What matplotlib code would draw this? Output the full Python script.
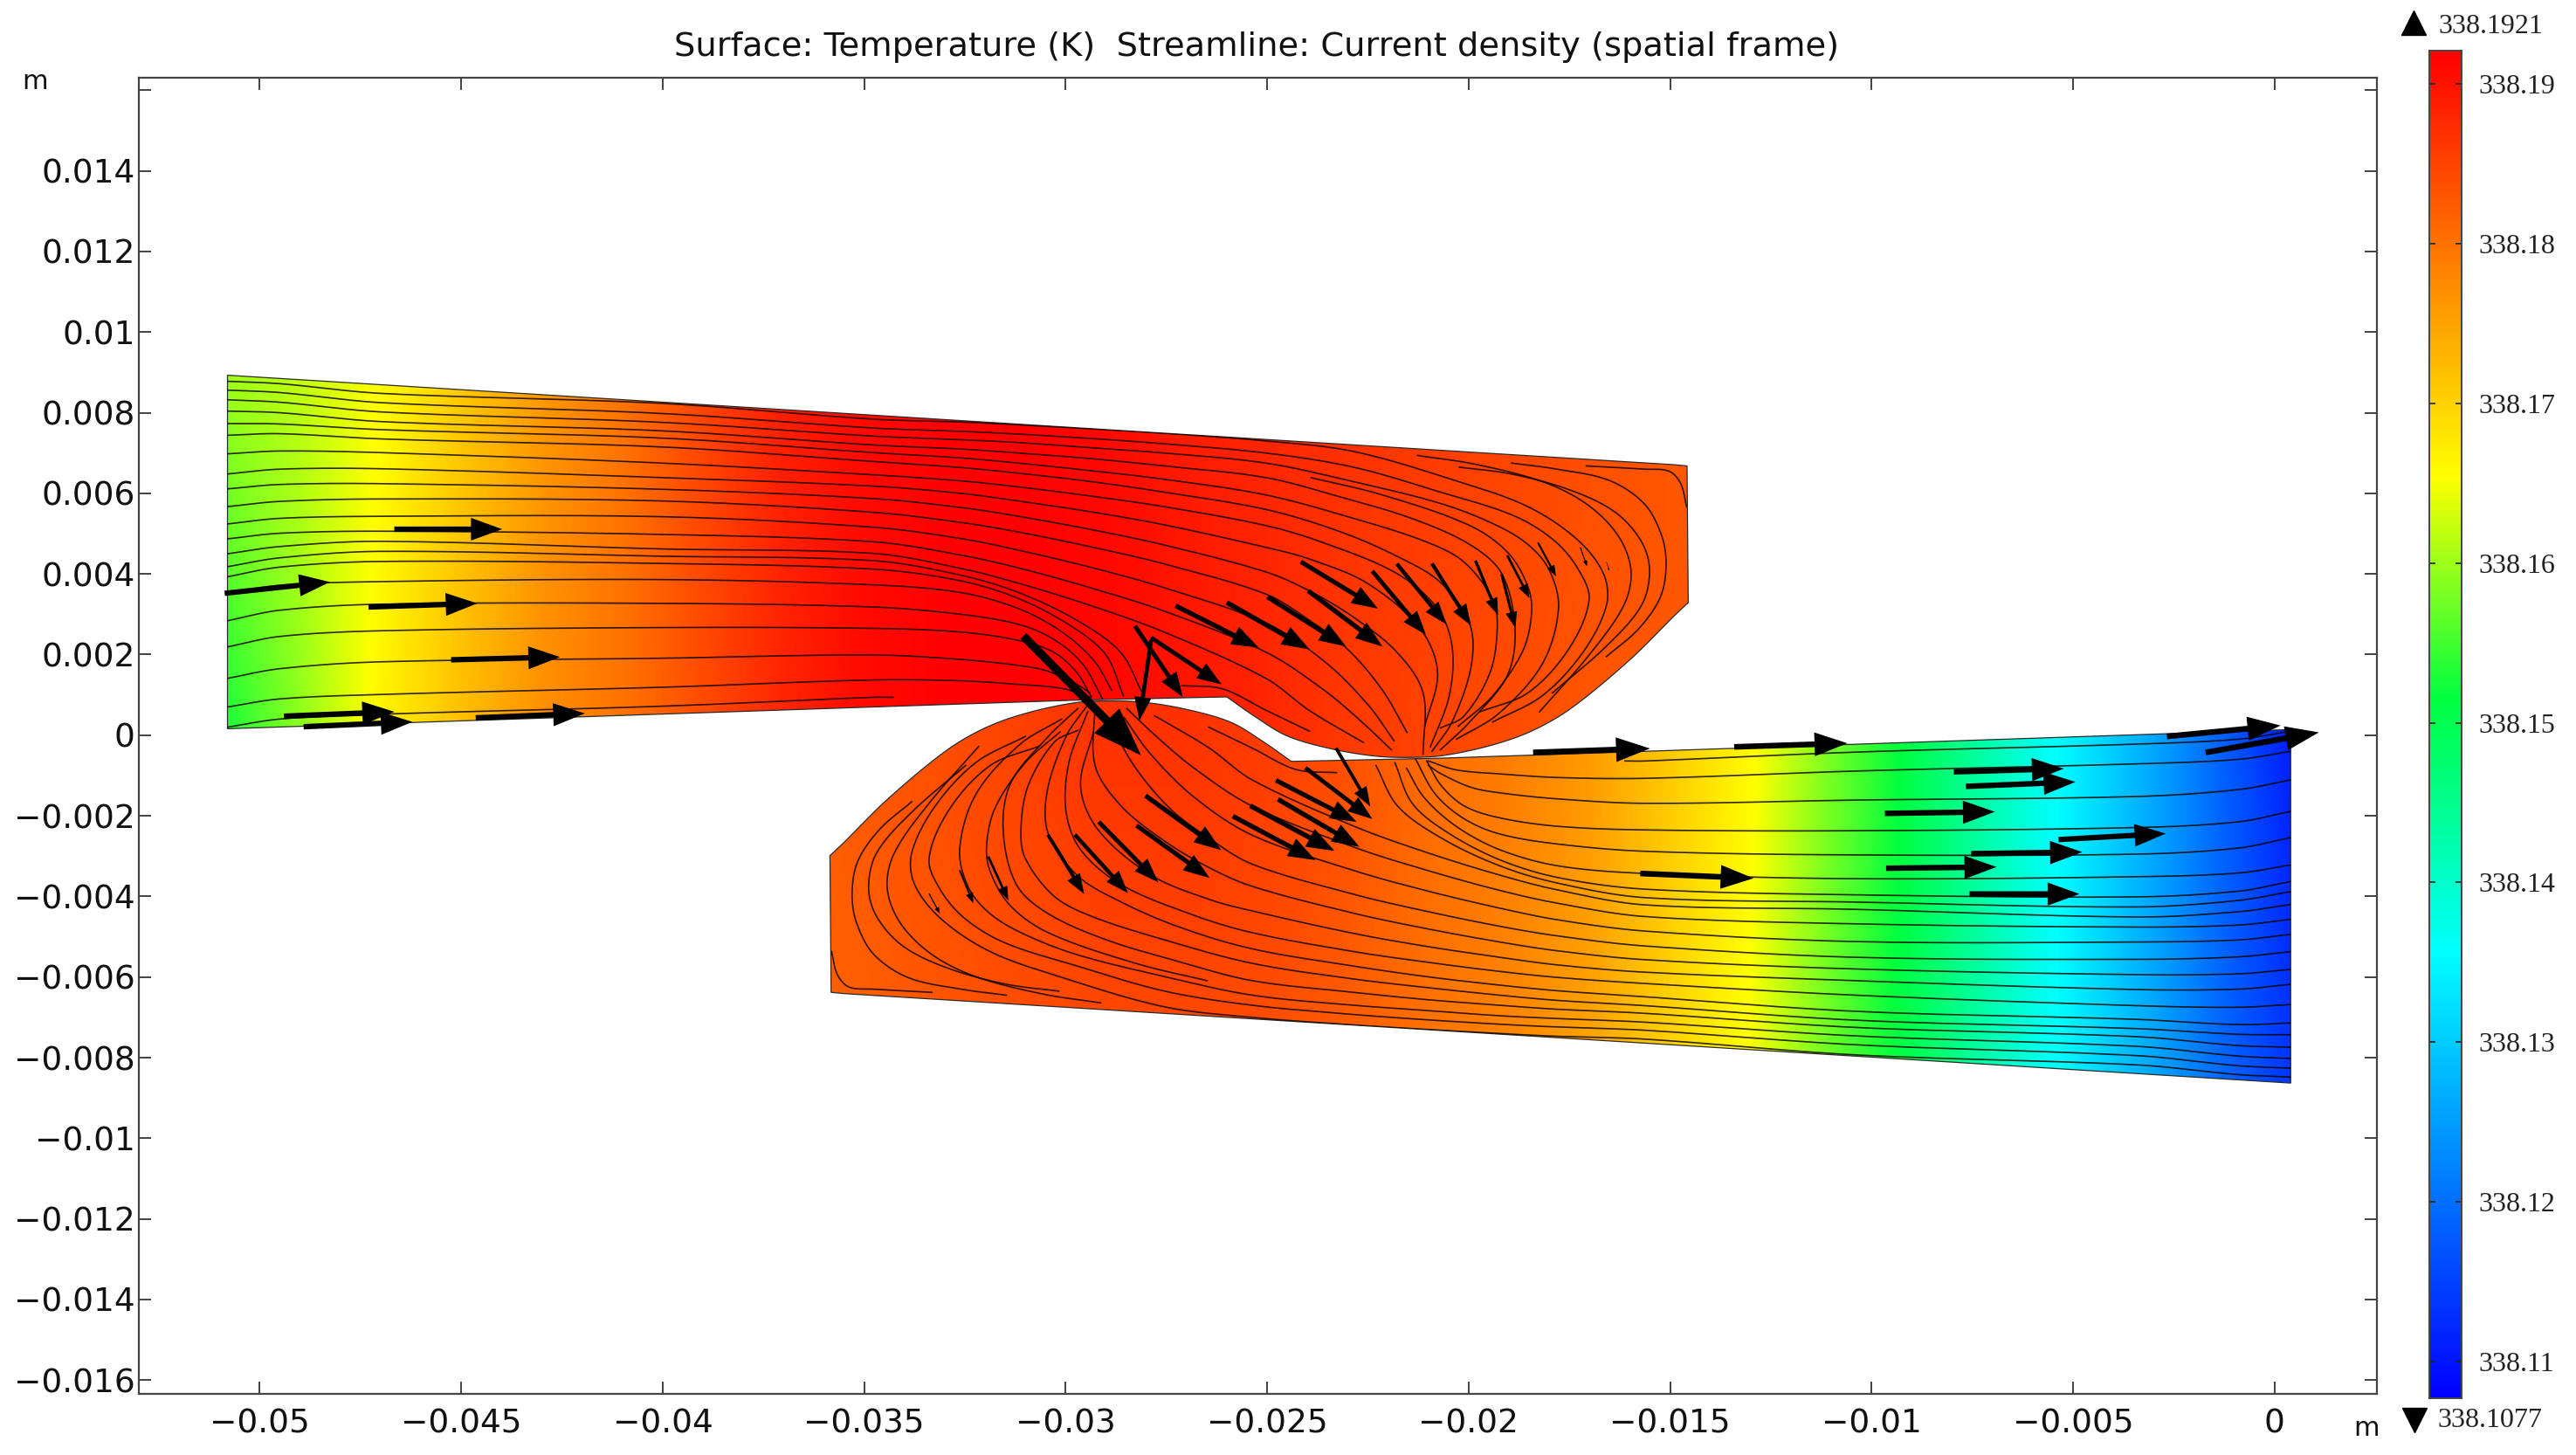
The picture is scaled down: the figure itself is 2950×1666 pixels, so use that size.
import numpy as np
import matplotlib
matplotlib.use("Agg")
import matplotlib.pyplot as plt
from matplotlib.colors import LinearSegmentedColormap
from matplotlib.patches import Polygon
from matplotlib.lines import Line2D

W, H = 2950, 1666
MM = 0.001  # values below are read in millimetres, the axes are in metres

TITLE = "Surface: Temperature (K)  Streamline: Current density (spatial frame)"
X_TICKS = [-0.05, -0.045, -0.04, -0.035, -0.03, -0.025, -0.02, -0.015, -0.01, -0.005, 0]
X_LABELS = ["−0.05", "−0.045", "−0.04", "−0.035", "−0.03", "−0.025", "−0.02", "−0.015", "−0.01", "−0.005", "0"]
Y_TICKS = [-0.016, -0.014, -0.012, -0.01, -0.008, -0.006, -0.004, -0.002, 0, 0.002, 0.004, 0.006,
           0.008, 0.01, 0.012, 0.014, 0.016]
Y_LABELS = ["−0.016", "−0.014", "−0.012", "−0.01", "−0.008", "−0.006", "−0.004", "−0.002", "0",
            "0.002", "0.004", "0.006", "0.008", "0.01", "0.012", "0.014", ""]

T_MIN, T_MAX = 338.1077, 338.1921
CBAR_TICKS = [338.11, 338.12, 338.13, 338.14, 338.15, 338.16, 338.17, 338.18, 338.19]

# Outline of the upper conductor (mm): straight top and right side, curved contact side, straight underside
OUTLINE_CORNERS = [(-50.8, 8.93), (-14.9, 6.71), (-14.58, 6.68), (-14.55, 3.29)]
OUTLINE_CURVE = [(-14.9, 2.96), (-16.0, 1.87), (-17.44, 0.68), (-18.4, 0.12), (-19.4, -0.24),
                 (-20.6, -0.5), (-21.4, -0.55), (-22.3, -0.52), (-23.4, -0.34), (-24.5, -0.02), (-25.3, 0.46),
                 (-26.0, 0.95)]
OUTLINE_UNDER = [(-29.72, 0.87), (-34.78, 0.7), (-50.8, 0.16)]
# The lower conductor is the upper one turned by half a circle about this point (mm)
TURN_CENTRE = (-25.2, 0.15)

# Temperature readings, offsets from 338 K
UPPER_T_X = [-51, -49, -47, -45, -43, -41, -39, -37, -35, -33, -31, -29, -27, -25, -23, -21, -19, -17, -15, -13]
UPPER_T_LOW = [.152, .159, .1665, .172, .177, .180, .184, .188, .191, .192, .192, .1915, .190, .188, .186, .185,
               .184, .183, .183, .183]
UPPER_T_HIGH = [.160, .162, .1655, .171, .176, .180, .185, .189, .191, .192, .192, .191, .189, .188, .187, .186,
                .185, .184, .183, .183]
UPPER_T_Y = [0.0, 9.0]
LOWER_T_X = [-37, -35, -33, -31, -29, -27, -25, -23, -21, -19, -17, -15, -13, -11, -9, -7, -5, -3, -1, 1]
LOWER_T_LOW = [.1815, .182, .183, .1835, .184, .184, .1835, .182, .180, .178, .175, .170, .165, .157, .150, .142,
               .134, .126, .118, .112]
LOWER_T_HIGH = [.182, .183, .184, .1855, .187, .187, .186, .184, .181, .179, .176, .171, .166, .158, .1505, .142,
                .134, .126, .117, .108]
LOWER_T_Y = [-9.0, 1.0]

# Streamlines of the upper conductor: y (mm) at common x stations, then each line's own path (mm)
STATION_X = [-50.8, -49.5, -47.0, -40.0, -34.78]
ST_Y = [
    [8.78, 8.72, 8.48, 8.23, 7.84], [8.56, 8.50, 8.25, 7.98, 7.62], [8.32, 8.26, 8.02, 7.76, 7.42],
    [8.04, 8.00, 7.78, 7.55, 7.20], [7.73, 7.72, 7.58, 7.37, 7.01], [7.44, 7.48, 7.35, 7.15, 6.79],
    [6.98, 7.05, 7.01, 6.75, 6.46], [6.48, 6.60, 6.61, 6.39, 6.18], [6.11, 6.22, 6.24, 6.10, 5.87],
    [5.67, 5.80, 5.86, 5.81, 5.53], [5.24, 5.38, 5.43, 5.42, 5.16], [4.87, 5.01, 5.06, 4.98, 4.80],
    [4.50, 4.68, 4.81, 4.62, 4.51], [4.18, 4.40, 4.56, 4.44, 4.33], [3.93, 4.17, 4.31, 4.26, 4.12],
    [3.52, 3.72, 3.81, 3.86, 3.73], [2.84, 3.10, 3.25, 3.27, 3.18], [2.19, 2.45, 2.59, 2.67, 2.65],
    [1.41, 1.65, 1.82, 1.91, 1.99], [0.70, 0.90, 1.01, 1.19, 1.37], [0.20, 0.40, 0.52, 0.72, 0.94],
]
ST_TAIL = [
    [(-32.61, 7.77), (-31.17, 7.70), (-29.36, 7.60), (-27.56, 7.49), (-25.03, 7.30), (-22.86, 7.04), (-20.34, 6.32),
     (-18.53, 5.67), (-17.30, 4.85), (-16.65, 4.00), (-16.58, 3.22), (-17.16, 2.06), (-18.17, 0.98), (-19.40, 0.33)],
    [(-32.61, 7.54), (-31.17, 7.47), (-29.36, 7.36), (-27.56, 7.23), (-25.03, 7.00), (-22.86, 6.65), (-20.70, 6.03),
     (-18.89, 5.45), (-17.90, 4.85), (-17.30, 4.15), (-17.01, 3.36), (-17.52, 2.13), (-18.53, 1.05), (-19.72, 0.58)],
    [(-32.61, 7.33), (-31.17, 7.26), (-29.36, 7.13), (-27.56, 7.00), (-25.03, 6.75), (-22.86, 6.29), (-20.70, 5.75),
     (-19.40, 5.25), (-18.55, 4.75), (-18.00, 4.10), (-17.77, 3.14), (-18.17, 1.77), (-19.25, 0.54), (-20.30, -0.10)],
    [(-32.61, 7.10), (-31.17, 7.00), (-29.36, 6.86), (-27.56, 6.68), (-25.03, 6.39), (-23.22, 5.92), (-21.42, 5.38),
     (-19.97, 4.73), (-19.18, 4.01), (-18.85, 2.67), (-19.04, 1.48), (-19.97, 0.33), (-20.70, -0.36)],
    [(-32.61, 6.88), (-31.17, 6.75), (-29.36, 6.56), (-27.56, 6.35), (-25.03, 5.96), (-22.86, 5.38), (-21.06, 4.80),
     (-20.12, 4.30), (-19.40, 3.36), (-19.29, 2.64), (-19.47, 1.55), (-20.12, 0.47), (-20.70, 0.18)],
    [(-32.61, 6.64), (-31.17, 6.50), (-29.36, 6.29), (-27.56, 6.03), (-25.03, 5.60), (-23.22, 5.06), (-21.78, 4.44),
     (-20.70, 3.79), (-19.97, 2.75), (-19.94, 1.70), (-20.41, 0.33), (-20.91, -0.40)],
    [(-32.61, 6.31), (-31.17, 6.16), (-29.36, 5.93), (-27.56, 5.67), (-25.03, 5.20), (-23.59, 4.77), (-21.78, 4.01),
     (-20.77, 3.14), (-20.41, 2.20), (-20.48, 0.98), (-20.95, -0.29)],
    [(-32.61, 6.00), (-31.17, 5.81), (-29.36, 5.54), (-27.56, 5.22), (-25.03, 4.66), (-23.95, 4.37), (-22.50, 3.76),
     (-21.20, 2.64), (-20.77, 1.55), (-21.09, 0.22)],
    [(-32.61, 5.65), (-31.17, 5.43), (-29.36, 5.10), (-27.56, 4.72), (-25.03, 4.05), (-23.95, 3.58), (-22.86, 2.93),
     (-21.78, 2.06), (-21.13, 1.05), (-21.13, -0.47)],
    [(-32.61, 5.28), (-31.17, 5.04), (-29.36, 4.67), (-27.56, 4.25), (-25.03, 3.50), (-23.95, 2.85), (-23.00, 2.13),
     (-22.14, 1.12), (-21.53, 0.07)],
    [(-32.61, 4.88), (-31.17, 4.59), (-29.36, 4.16), (-27.56, 3.66), (-25.03, 2.78), (-23.59, 1.84), (-22.50, 0.76),
     (-21.85, -0.14)],
    [(-32.61, 4.47), (-31.17, 4.15), (-29.36, 3.65), (-27.56, 3.08), (-25.03, 2.06), (-23.59, 1.12), (-22.65, 0.33),
     (-21.92, -0.36)],
    [(-32.61, 4.14), (-31.17, 3.77), (-29.36, 3.21), (-27.56, 2.56), (-25.03, 1.41), (-23.95, 0.61), (-22.61, -0.18)],
    [(-32.61, 3.97), (-31.17, 3.54), (-29.72, 2.85), (-28.64, 2.06), (-28.10, 1.05)],
    [(-32.61, 3.83), (-31.17, 3.39), (-29.87, 2.71), (-29.00, 1.99), (-28.57, 0.98)],
    [(-32.61, 3.54), (-31.17, 3.14), (-30.09, 2.56), (-29.29, 1.84), (-28.86, 1.12)],
    [(-32.61, 3.00), (-31.17, 2.75), (-30.30, 2.38), (-29.58, 1.77), (-29.07, 0.87)],
    [(-32.61, 2.56), (-31.17, 2.35), (-30.30, 2.06), (-29.72, 1.55), (-29.36, 0.94)],
    [(-32.61, 1.88), (-31.17, 1.73), (-30.45, 1.59), (-29.72, 1.26), (-29.40, 1.05)],
    [(-32.61, 1.35), (-31.17, 1.26), (-30.09, 1.16), (-29.40, 0.94)],
    [(-34.28, 0.94)],
]
# Short streamlines that start inside the conductor (mm)
ST_SHORT = [
    [(-23.91, 6.39), (-22.14, 5.96), (-19.97, 5.20), (-19.00, 4.50), (-18.50, 3.60), (-18.45, 2.90), (-18.67, 2.06),
     (-19.40, 0.98), (-20.26, 0.22)],
    [(-27.12, 1.23), (-26.11, 1.15), (-25.03, 0.62), (-23.95, 0.10)],
    [(-18.93, 6.75), (-17.81, 6.60), (-16.51, 6.32), (-15.64, 5.74), (-15.21, 4.95), (-15.10, 4.23), (-15.24, 3.43),
     (-15.78, 2.64), (-16.58, 1.95)],
    [(-20.23, 6.65), (-18.89, 6.47), (-17.45, 6.07), (-16.36, 5.53), (-15.71, 4.80), (-15.51, 4.08), (-15.71, 3.22),
     (-16.58, 2.21), (-17.92, 1.05)],
    [(-21.27, 6.94), (-19.83, 6.72), (-18.17, 6.29), (-17.08, 5.74), (-16.29, 4.95), (-15.97, 4.08), (-16.15, 3.22),
     (-17.01, 1.99), (-18.24, 0.58)],
    [(-17.08, 6.68), (-15.64, 6.60), (-15.03, 6.55), (-14.74, 6.25), (-14.59, 5.67)],
]

# Arrows: tail x, tail y, tip x, tip y (mm)
ARROWS = [
    (-50.87, 3.52, -48.26, 3.80), (-46.66, 5.11, -43.98, 5.11), (-47.30, 3.18, -44.60, 3.27),
    (-45.25, 1.87, -42.55, 1.94), (-49.40, 0.47, -46.66, 0.58), (-48.91, 0.21, -46.21, 0.33),
    (-44.64, 0.43, -41.93, 0.54),
    (-24.16, 4.30, -22.25, 3.14), (-23.98, 3.58, -22.14, 2.20), (-24.99, 3.43, -23.04, 2.20),
    (-26.00, 3.29, -23.95, 2.13), (-27.27, 3.21, -25.21, 2.17), (-22.39, 4.07, -21.06, 2.49),
    (-21.78, 4.25, -20.55, 2.75), (-20.91, 4.26, -19.94, 2.72), (-19.83, 4.33, -19.27, 2.98),
    (-19.18, 3.99, -18.84, 2.66), (-19.04, 4.46, -18.49, 3.40), (-18.28, 4.78, -17.83, 3.94),
    (-17.23, 4.66, -17.06, 4.19), (-16.58, 4.30, -16.51, 4.08),
    (-31.05, 2.46, -28.13, -0.50), (-28.28, 2.71, -27.09, 0.94), (-27.88, 2.42, -26.13, 1.26),
    (-27.88, 2.35, -28.17, 0.36),
    (-28.02, -1.50, -26.14, -2.85), (-28.24, -2.24, -26.43, -3.54), (-29.18, -2.15, -27.70, -3.65),
    (-29.77, -2.47, -28.45, -3.92), (-30.44, -2.47, -29.54, -3.94), (-31.92, -3.01, -31.42, -4.10),
    (-32.63, -3.35, -32.29, -4.17), (-33.39, -3.93, -33.12, -4.43),
    (-25.85, -2.01, -23.80, -3.10), (-25.42, -1.75, -23.33, -2.87), (-24.73, -1.59, -22.71, -2.77),
    (-24.78, -1.12, -22.78, -2.15), (-24.05, -0.81, -22.39, -2.08), (-23.29, -0.32, -22.44, -1.77),
    (-18.40, -0.43, -15.50, -0.33), (-13.41, -0.29, -10.60, -0.20), (-2.67, -0.03, 0.15, 0.24),
    (-1.71, -0.43, 1.10, 0.07), (-7.96, -0.91, -5.23, -0.83), (-7.66, -1.27, -4.94, -1.16),
    (-9.67, -1.94, -6.94, -1.90), (-5.36, -2.59, -2.70, -2.44), (-7.53, -2.94, -4.77, -2.90),
    (-9.64, -3.30, -6.90, -3.27), (-7.57, -3.94, -4.84, -3.94), (-15.74, -3.43, -12.93, -3.55),
]

CMAP_STOPS = [(0.0, (0, 0, 1)), (0.33, (0, 1, 1)), (0.518, (0, 1, 0.25)), (0.684, (1, 1, 0)), (1.0, (1, 0, 0))]
cmap = LinearSegmentedColormap.from_list("surface", CMAP_STOPS, N=512)


def smooth(points, n=14):
    """Pass a curve through the read points."""
    p = np.asarray(points, float)
    d = np.hypot(*np.diff(p, axis=0).T)
    d[d == 0] = 1e-6
    m = np.zeros_like(p)
    m[0] = (p[1] - p[0]) / d[0]
    m[-1] = (p[-1] - p[-2]) / d[-1]
    for i in range(1, len(p) - 1):
        m[i] = (p[i + 1] - p[i - 1]) / (d[i] + d[i - 1])
    out = []
    for i in range(len(p) - 1):
        s = np.linspace(0, 1, n, endpoint=False)[:, None]
        h = d[i]
        out.append((2*s**3 - 3*s**2 + 1)*p[i] + (s**3 - 2*s**2 + s)*h*m[i]
                   + (-2*s**3 + 3*s**2)*p[i + 1] + (s**3 - s**2)*h*m[i + 1])
    out.append(p[-1:])
    return np.vstack(out)


def turned(points):
    p = np.asarray(points, float)
    return np.array([2 * TURN_CENTRE[0], 2 * TURN_CENTRE[1]]) - p


def figbox(x0, y0, x1, y1):
    return [x0 / W, 1 - y1 / H, (x1 - x0) / W, (y1 - y0) / H]


plt.rcParams["font.family"] = "DejaVu Sans"
fig = plt.figure(figsize=(W / 100, H / 100), dpi=100, facecolor="white")
ax = fig.add_axes(figbox(159, 89, 2722, 1596))

norm_kw = dict(cmap=cmap, vmin=T_MIN, vmax=T_MAX, interpolation="bilinear", interpolation_stage="data",
               origin="lower", aspect="auto")

upper_outline = np.vstack([OUTLINE_CORNERS, smooth(OUTLINE_CURVE), OUTLINE_UNDER])


def surface(t_x, t_y, low, high, outline):
    table = 338 + np.array([low, high])
    dx = t_x[1] - t_x[0]
    dy = t_y[1] - t_y[0]
    im = ax.imshow(table, extent=[(t_x[0] - dx / 2) * MM, (t_x[-1] + dx / 2) * MM,
                                  (t_y[0] - dy / 2) * MM, (t_y[1] + dy / 2) * MM], zorder=1, **norm_kw)
    patch = Polygon(np.asarray(outline) * MM, closed=True, transform=ax.transData, fc="none",
                    ec="#2a2a2a", lw=0.9, zorder=2)
    ax.add_patch(patch)
    im.set_clip_path(patch)
    return patch


upper_patch = surface(UPPER_T_X, UPPER_T_Y, UPPER_T_LOW, UPPER_T_HIGH, upper_outline)
lower_patch = surface(LOWER_T_X, LOWER_T_Y, LOWER_T_LOW, LOWER_T_HIGH, turned(upper_outline))

lines = [list(zip(STATION_X, ys)) + tail for ys, tail in zip(ST_Y, ST_TAIL)] + ST_SHORT
for line in lines:
    c = smooth(line) * MM
    ax.plot(c[:, 0], c[:, 1], color="#100500", lw=1.2, alpha=0.85, zorder=3, clip_path=upper_patch)
    c2 = smooth(turned(line)) * MM
    ax.plot(c2[:, 0], c2[:, 1], color="#100500", lw=1.2, alpha=0.85, zorder=3, clip_path=lower_patch)

for x0, y0, x1, y1 in ARROWS:
    length = np.hypot(x1 - x0, y1 - y0)
    ax.arrow(x0 * MM, y0 * MM, (x1 - x0) * MM, (y1 - y0) * MM, width=0.05 * length * MM,
             head_width=0.21 * length * MM, head_length=0.29 * length * MM, length_includes_head=True,
             fc="black", ec="black", lw=0, zorder=5, clip_on=False)

ax.set_xlim(-0.0530, 0.00254)
ax.set_ylim(-0.01634, 0.01631)
ax.set_xticks(X_TICKS, X_LABELS)
ax.set_yticks(Y_TICKS, Y_LABELS)
ax.tick_params(axis="both", direction="in", length=10, width=1.3, color="#333333", labelsize=27,
               labelcolor="#111111", top=True, right=True)
ax.tick_params(axis="x", pad=12)
ax.tick_params(axis="y", pad=3)
for s in ax.spines.values():
    s.set_linewidth(1.6)
    s.set_color("#444444")

fig.text(1439 / W, 1 - 54 / H, TITLE, ha="center", va="center", fontsize=27.6, color="#111111")
fig.text(40 / W, 1 - 93 / H, "m", ha="center", va="center", fontsize=22, color="#111111")
fig.text(2710 / W, 1 - 1636 / H, "m", ha="center", va="center", fontsize=22, color="#111111")

# Colour bar
cax = fig.add_axes(figbox(2782, 58, 2819, 1601))
grad = np.linspace(T_MIN, T_MAX, 512)[:, None]
cax.imshow(grad, extent=[0, 1, T_MIN, T_MAX], cmap=cmap, vmin=T_MIN, vmax=T_MAX, origin="lower", aspect="auto")
cax.set_xticks([])
cax.set_yticks(CBAR_TICKS, [f"{v:.2f}" for v in CBAR_TICKS])
cax.tick_params(axis="y", direction="in", length=5, width=1.2, color="#222222", left=True, right=True,
                labelleft=False, labelright=True, pad=14, labelsize=23, labelcolor="#222222")
for lab in cax.get_yticklabels():
    lab.set_family("Liberation Serif")
for s in cax.spines.values():
    s.set_linewidth(1.4)
    s.set_color("#444444")

fig.add_artist(Line2D([2764 / W], [1 - 26 / H], marker="^", color="black", ms=20, ls="none",
                      transform=fig.transFigure))
fig.add_artist(Line2D([2765 / W], [1 - 1626 / H], marker="v", color="black", ms=20, ls="none",
                      transform=fig.transFigure))
fig.text(2792 / W, 1 - 30 / H, f"{T_MAX:.4f}", ha="left", va="center", fontsize=23, family="Liberation Serif",
         color="#222222")
fig.text(2791 / W, 1 - 1627 / H, f"{T_MIN:.4f}", ha="left", va="center", fontsize=23, family="Liberation Serif",
         color="#222222")

fig.savefig("out.png", dpi=100, facecolor="white")
